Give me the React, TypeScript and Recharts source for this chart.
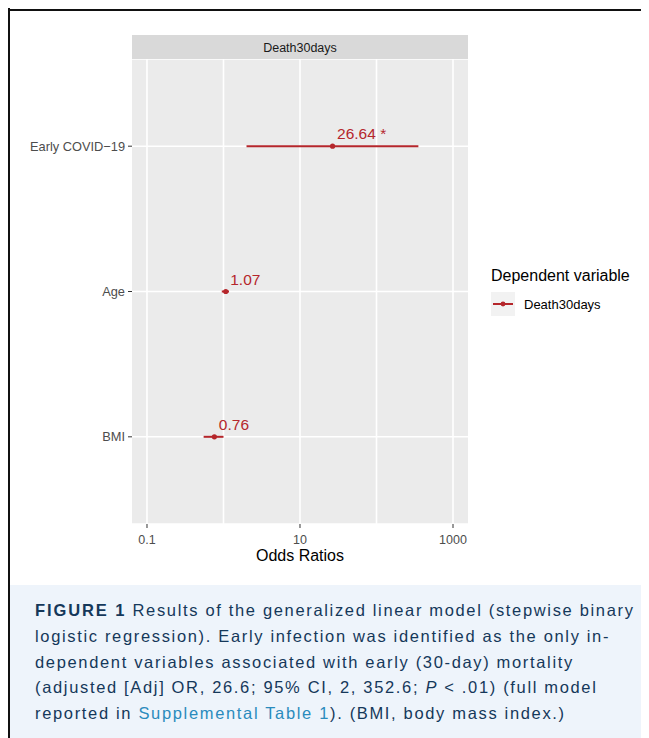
import {
  ScatterChart,
  Scatter,
  XAxis,
  YAxis,
  CartesianGrid,
  ErrorBar,
} from 'recharts';

// model output, top row first
const categories = ['Early COVID−19', 'Age', 'BMI'];
const oddsRatios = [26.64, 1.07, 0.76];
const ciLow = [2.0, 0.95, 0.55];
const ciHigh = [352.6, 1.18, 1.0];
const pointLabels = ['26.64 *', '1.07', '0.76'];

const xTicks = [0.1, 10, 1000];
const xGridValues = [0.1, 1, 10, 100, 1000];
const xDomain = [0.0637, 1570];

const RED = '#b5262b';
const FONT = '"Liberation Sans", Arial, Helvetica, sans-serif';

const data = categories.map((name, i) => ({
  name,
  y: categories.length - i,
  or: oddsRatios[i],
  err: [oddsRatios[i] - ciLow[i], ciHigh[i] - oddsRatios[i]],
  label: pointLabels[i],
}));

function PointShape(props: any) {
  const { cx, cy, payload } = props;
  if (cx == null || cy == null) return null;
  return (
    <g>
      <circle cx={cx} cy={cy} r={2.6} fill={RED} />
      <text x={cx + 4.5} y={cy - 7} fill={RED} fontSize={15.5} textAnchor="start">
        {payload.label}
      </text>
    </g>
  );
}

const captionLines = [
  'logistic regression). Early infection was identified as the only in-',
  'dependent variables associated with early (30-day) mortality',
];

export default function App() {
  return (
    <div style={{ position: 'relative', width: 641, height: 730, fontFamily: FONT, overflow: 'hidden' }}>
      {/* figure frame */}
      <div style={{ position: 'absolute', left: 0, top: 0, width: 2, height: 730, background: '#111' }} />
      <div style={{ position: 'absolute', left: 0, top: 1, width: 641, height: 2, background: '#111' }} />

      <div style={{ position: 'absolute', left: 0, top: 0 }}>
        <ScatterChart width={641} height={577} margin={{ top: 51, right: 181, bottom: 24, left: 0 }}>
          <CartesianGrid
            fill="#ebebeb"
            stroke="#ffffff"
            strokeWidth={1.6}
            verticalValues={xGridValues}
          />
          <XAxis
            type="number"
            dataKey="or"
            scale="log"
            domain={xDomain}
            allowDataOverflow
            ticks={xTicks}
            tickFormatter={(v) => String(v)}
            axisLine={false}
            tickLine={{ stroke: '#333333' }}
            tickSize={4}
            tickMargin={7}
            height={37}
            tick={{ fontSize: 12.5, fill: '#4d4d4d' }}
            label={{ value: 'Odds Ratios', position: 'insideBottom', offset: 0, fontSize: 16, fill: '#000' }}
          />
          <YAxis
            type="number"
            dataKey="y"
            domain={[0.4, 3.6]}
            ticks={[1, 2, 3]}
            tickFormatter={(v) => categories[categories.length - v]}
            axisLine={false}
            tickLine={{ stroke: '#333333' }}
            tickSize={4}
            tickMargin={3}
            width={124}
            tick={{ fontSize: 12.8, fill: '#4d4d4d' }}
          />
          <Scatter data={data} fill={RED} shape={<PointShape />} isAnimationActive={false}>
            <ErrorBar dataKey="err" direction="x" width={0} stroke={RED} strokeWidth={2} />
          </Scatter>
        </ScatterChart>
      </div>

      {/* facet strip and legend */}
      <svg width={641} height={577} style={{ position: 'absolute', left: 0, top: 0, pointerEvents: 'none' }}>
        <rect x={124} y={27} width={336} height={24} fill="#d9d9d9" />
        <text x={292} y={43.5} textAnchor="middle" fontSize={12.5} fill="#1a1a1a">
          Death30days
        </text>

        <text x={483} y={273} fontSize={16} fill="#000">
          Dependent variable
        </text>
        <rect x={483} y={284} width={24} height={24} fill="#f2f2f2" />
        <line x1={485} x2={505} y1={296} y2={296} stroke={RED} strokeWidth={2} />
        <circle cx={495} cy={296} r={2.4} fill={RED} />
        <text x={516} y={300.5} fontSize={13} fill="#000">
          Death30days
        </text>
      </svg>

      {/* caption */}
      <div
        style={{
          position: 'absolute',
          left: 2,
          top: 577,
          width: 639,
          height: 153,
          background: '#eef4fb',
          boxSizing: 'border-box',
          padding: '13px 0 0 25px',
          color: '#15385a',
          fontSize: 16.5,
          lineHeight: '25.8px',
          letterSpacing: 1.66,
          whiteSpace: 'nowrap',
        }}
      >
        <div>
          <span style={{ fontWeight: 900, letterSpacing: 1.9 }}>FIGURE 1</span>
          {'  '}Results of the generalized linear model (stepwise binary
        </div>
        {captionLines.map((line) => (
          <div key={line}>{line}</div>
        ))}
        <div>
          (adjusted [Adj] OR, 26.6; 95% CI, 2, 352.6; <i>P</i> &lt; .01) (full model
        </div>
        <div>
          reported in <span style={{ color: '#2a8bbd' }}>Supplemental Table 1</span>). (BMI, body mass index.)
        </div>
      </div>
    </div>
  );
}
